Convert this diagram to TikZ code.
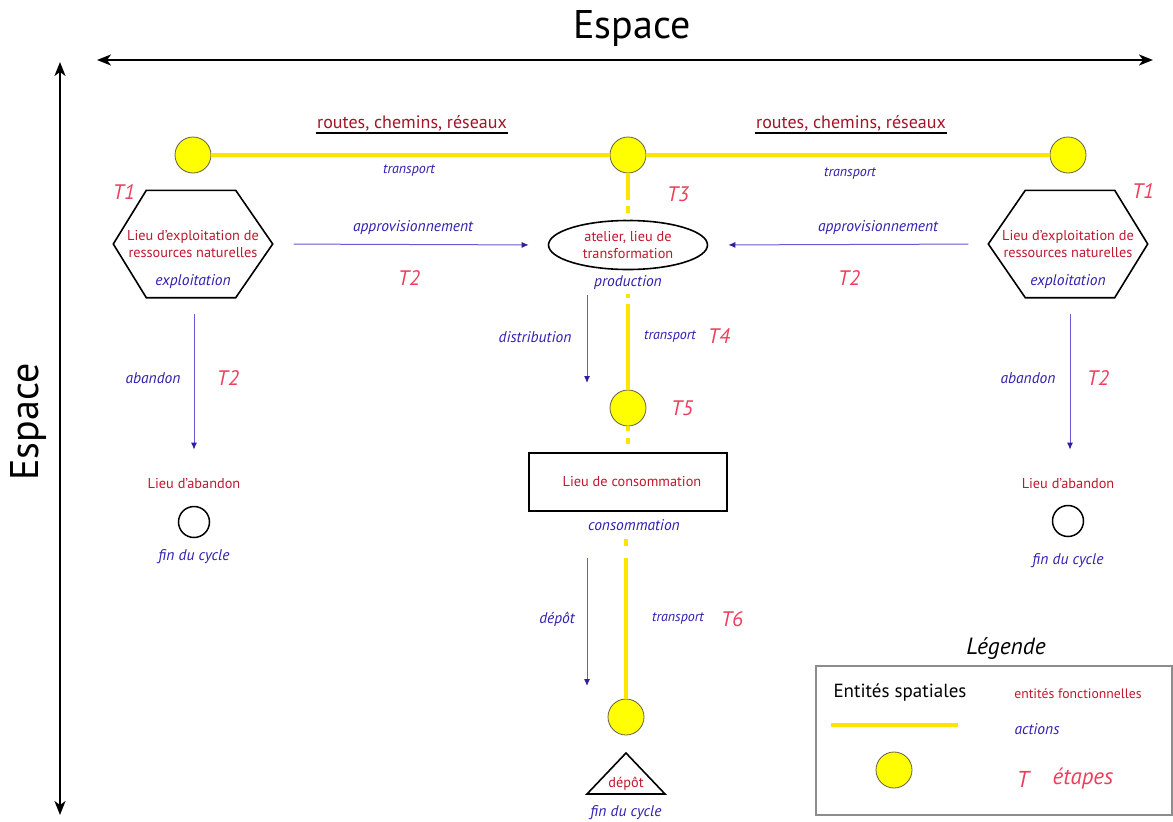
\documentclass[tikz,border=0pt]{standalone}
\usepackage{fontspec}
\setmainfont{PT Sans}
\usetikzlibrary{arrows.meta,calc,shapes.geometric}
\definecolor{entred}{HTML}{C0182E}
\definecolor{stepred}{HTML}{EC3F5C}
\definecolor{actblue}{HTML}{3020B0}
\definecolor{arrblue}{HTML}{6A58D8}
\definecolor{tipblue}{HTML}{3020A0}
\definecolor{roadyel}{HTML}{FFE400}
\definecolor{circyel}{HTML}{FFFF00}
\tikzset{
  entxt/.style={text=entred, font=\fontsize{14.3}{17}\selectfont, align=center, inner sep=1pt},
  acttxt/.style={text=actblue, font=\itshape\fontsize{15.5}{18}\selectfont, inner sep=1pt},
  actsm/.style={text=actblue, font=\itshape\fontsize{14}{16}\selectfont, inner sep=1pt},
  steplbl/.style={text=stepred, font=\itshape\fontsize{21}{25}\selectfont, inner sep=1pt},
  ycirc/.style={circle, draw=black!70!yellow, line width=0.8pt, fill=circyel, minimum size=36pt, inner sep=0pt},
  opencirc/.style={circle, draw=black, line width=1.5pt, minimum size=31pt, inner sep=0pt},
  road/.style={draw=roadyel, line width=4pt},
  actarr/.style={draw=arrblue, line width=1pt, -{Latex[length=7pt,width=6pt,color=tipblue]}},
  axisarr/.style={line width=2pt, {Stealth[length=14pt,width=11pt,inset=4pt]}-{Stealth[length=14pt,width=11pt,inset=4pt]}},
  shapeline/.style={draw=black, line width=1.6pt},
  roadlbl/.style={text=entred!85!black, font=\fontsize{18}{22}\selectfont, inner sep=1pt}
}
\begin{document}
\begin{tikzpicture}[x=1pt,y=-1pt]
\useasboundingbox[fill=white] (0,0) rectangle (1173,822);

% axes
\node[font=\fontsize{40}{46}\selectfont] (title) at (632,28) {Espace};
\node[font=\fontsize{40}{46}\selectfont, rotate=90] (vtitle) at (28,422) {Espace};
\coordinate (hA) at (97,60);
\coordinate (hB) at (1153,60);
\coordinate (vA) at (60,62);
\coordinate (vB) at (60,815);
\draw[axisarr] (hA) -- (hB);
\draw[axisarr] (vA) -- (vB);

% road labels
\node[roadlbl] (rL) at (412,123) {routes, chemins, réseaux};
\node[roadlbl] (rR) at (851,123) {routes, chemins, réseaux};
\draw[line width=1.6pt] ($(rL.south west)+(0,1)$) -- ($(rL.south east)+(0,1)$);
\draw[line width=1.6pt] ($(rR.south west)+(0,1)$) -- ($(rR.south east)+(0,1)$);

% top circles and road
\node[ycirc] (cL) at (193,155) {};
\node[ycirc] (cM) at (628,155) {};
\node[ycirc] (cR) at (1068,155) {};
\draw[road] (cL) -- (cM);
\draw[road] (cM) -- (cR);
\node[actsm] (trL) at (409,171) {transport};
\node[actsm] (trR) at (850,174) {transport};

% hexagons
\node[entxt, minimum width=159pt, minimum height=107pt] (hexL) at (193,244) {Lieu d’exploitation de\\ressources naturelles};
\draw[shapeline] (hexL.west) -- ($(hexL.north west)+(33,0)$) -- ($(hexL.north east)+(-37,0)$) -- (hexL.east) -- ($(hexL.south east)+(-37,0)$) -- ($(hexL.south west)+(33,0)$) -- cycle;
\node[acttxt] (expL) at (193,282) {exploitation};
\node[steplbl] (t1L) at (124,192) {T1};

\node[entxt, minimum width=159pt, minimum height=107pt] (hexR) at (1068,244) {Lieu d’exploitation de\\ressources naturelles};
\draw[shapeline] (hexR.west) -- ($(hexR.north west)+(37,0)$) -- ($(hexR.north east)+(-33,0)$) -- (hexR.east) -- ($(hexR.south east)+(-33,0)$) -- ($(hexR.south west)+(37,0)$) -- cycle;
\node[acttxt] (expR) at (1068,282) {exploitation};
\node[steplbl] (t1R) at (1143,191) {T1};

% workshop
\node[entxt, ellipse, shapeline, minimum width=159pt, minimum height=49pt, inner sep=0pt] (atel) at (628,245) {atelier, lieu de\\transformation};
\node[steplbl] (t3) at (678,194) {T3};
\node[acttxt] (prod) at (628,283) {production};
\draw[road, line width=3.5pt, dash pattern=on 27pt off 6pt on 7pt off 6pt] (cM) -- (atel);

% supply arrows
\draw[actarr, shorten <=21pt, shorten >=19pt] (hexL.east) -- (atel.west);
\draw[actarr, shorten <=20pt, shorten >=20pt] (hexR.west) -- (atel.east);
\node[acttxt] (apL) at (413,228) {approvisionnement};
\node[acttxt] (apR) at (878,228) {approvisionnement};
\node[steplbl] (t2a) at (409,278) {T2};
\node[steplbl] (t2b) at (849,278) {T2};

% abandon
\node[entxt] (abL) at (194,484) {Lieu d’abandon};
\node[opencirc] (ocL) at (194,522) {};
\node[acttxt] (finL) at (194,557) {fin du cycle};
\draw[actarr, shorten <=16pt, shorten >=28pt] (hexL.south -| abL) -- (abL.north);
\node[acttxt] (abnL) at (153,378) {abandon};
\node[steplbl] (t2c) at (228,378) {T2};

\node[entxt] (abR) at (1068,484) {Lieu d’abandon};
\node[opencirc] (ocR) at (1068,521) {};
\node[acttxt] (finR) at (1068,561) {fin du cycle};
\draw[actarr, shorten <=16pt, shorten >=28pt] (hexR.south -| 1070,0) -- (abR.north -| 1070,0);
\node[acttxt] (abnR) at (1028,378) {abandon};
\node[steplbl] (t2d) at (1098,378) {T2};

% distribution
\node[ycirc] (c5) at (628,408) {};
\node[steplbl] (t5) at (682,408) {T5};
\draw[road, line width=3.5pt, shorten <=24pt, dash pattern=on 4pt off 6pt on 200pt] (atel.south) -- (c5);
\coordinate (dA) at (587,295);
\coordinate (dB) at (587,383);
\draw[actarr] (dA) -- (dB);
\node[acttxt] (distr) at (535,337) {distribution};
\node[actsm] (tr4) at (670,337) {transport};
\node[steplbl] (t4) at (719,336) {T4};

% consumption
\node[entxt, draw=black, line width=1.6pt, minimum width=198pt, minimum height=58pt] (cons) at (628,482) {\hspace{8pt}Lieu de consommation};
\draw[road, line width=3.5pt, shorten >=8pt, dash pattern=on 5pt off 7pt on 6pt off 30pt] (c5) -- (cons);
\node[acttxt] (consl) at (634,525) {consommation};

% deposit
\node[ycirc] (c6) at (626,717) {};
\draw[road, line width=3.5pt, shorten <=27pt, dash pattern=on 7pt off 12pt on 300pt] (cons.south -| c6) -- (c6);
\coordinate (pA) at (587,558);
\coordinate (pB) at (587,686);
\draw[actarr] (pA) -- (pB);
\node[acttxt] (depl) at (557,619) {dépôt};
\node[actsm] (tr6) at (678,619) {transport};
\node[steplbl] (t6) at (732,619) {T6};
\node[entxt] (depot) at (626,784) {dépôt};
\draw[line width=1.6pt] ($(depot)+(0,-31)$) -- ($(depot)+(-39,10)$) -- ($(depot)+(39,10)$) -- cycle;
\node[acttxt] (finM) at (626,813) {fin du cycle};

% legend
\node[font=\itshape\fontsize{23.5}{28}\selectfont] (legt) at (1006,649) {Légende};
\node[draw=black!45, line width=1.2pt, minimum width=356pt, minimum height=149pt, inner sep=0pt] (legbox) at (994,740.5) {};
\node[font=\fontsize{19}{23}\selectfont] (legsp) at (900,693) {Entités spatiales};
\node[entxt, font=\fontsize{13.7}{16}\selectfont] (legfn) at (1078,694) {entités fonctionnelles};
\coordinate (lyA) at (831,725);
\coordinate (lyB) at (958,725);
\draw[road] (lyA) -- (lyB);
\node[acttxt] (legac) at (1037,729) {actions};
\node[ycirc] (legc) at (894,770) {};
\node[steplbl, font=\itshape\fontsize{23}{27}\selectfont] (legT) at (1023,779) {T};
\node[steplbl, font=\itshape\fontsize{23}{27}\selectfont] (legE) at (1083,779) {étapes};
\end{tikzpicture}
\end{document}
